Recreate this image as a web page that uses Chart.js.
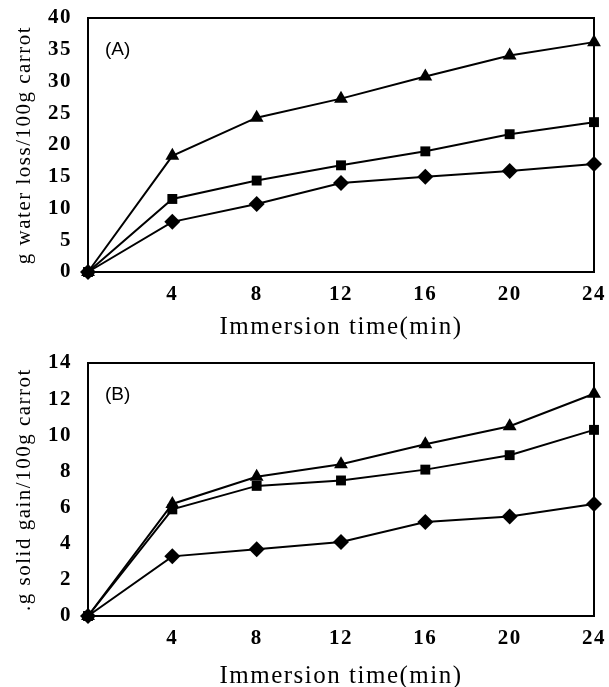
<!DOCTYPE html>
<html>
<head>
<meta charset="utf-8">
<script src="https://cdn.jsdelivr.net/npm/chart.js@4"></script>
<style>
  html, body { margin: 0; padding: 0; background: #fff; }
  #chartA { display: block; width: 609px; height: 343px; }
  #chartB { display: block; width: 609px; height: 344px; }
</style>
</head>
<body>
<canvas id="chartA" width="609" height="343"></canvas>
<canvas id="chartB" width="609" height="344"></canvas>
<script>
// --- data ---
const times = [0, 4, 8, 12, 16, 20, 24];

const waterTriangle = [0, 18.3, 24.3, 27.3, 30.8, 34.1, 36.2];
const waterSquare   = [0, 11.5, 14.4, 16.8, 19.0, 21.7, 23.6];
const waterDiamond  = [0, 7.9, 10.7, 14.0, 15.0, 15.9, 17.0];

const solidTriangle = [0, 6.2, 7.7, 8.4, 9.5, 10.5, 12.3];
const solidSquare   = [0, 5.9, 7.2, 7.5, 8.1, 8.9, 10.3];
const solidDiamond  = [0, 3.3, 3.7, 4.1, 5.2, 5.5, 6.2];

const serif = "'Liberation Serif', 'DejaVu Serif', serif";

// wide letter spacing like the scanned figure
const spacingPlugin = {
  id: "spacing",
  beforeDraw(chart) { chart.ctx.letterSpacing = "1.5px"; }
};

// box round plot area + panel letter
const framePlugin = {
  id: "frame",
  afterDraw(chart, args, opts) {
    const { ctx, chartArea: a } = chart;
    ctx.save();
    ctx.letterSpacing = "0px";
    ctx.strokeStyle = "#000";
    ctx.lineWidth = 2;
    ctx.strokeRect(a.left, a.top, a.right - a.left, a.bottom - a.top);
    ctx.fillStyle = "#000";
    ctx.font = "19px 'Liberation Sans', Arial, sans-serif";
    ctx.textBaseline = "middle";
    ctx.fillText(opts.label, a.left + 17, a.top + 32);
    ctx.restore();
  }
};

function series(vals, shape, size) {
  return {
    data: vals.map((v, i) => ({ x: times[i], y: v })),
    borderColor: "#000",
    backgroundColor: "#000",
    borderWidth: 2,
    pointStyle: shape,
    pointRadius: size,
    pointBorderWidth: 0,
    tension: 0
  };
}

function makeChart(id, label, sets, yMax, yStep, yTitle, topPad, titleBottom) {
  return new Chart(document.getElementById(id), {
    type: "line",
    data: {
      datasets: [
        series(sets[0], "triangle", 8),
        series(sets[1], "rect", 7),
        series(sets[2], "rectRot", 8)
      ]
    },
    options: {
      responsive: false,
      animation: false,
      clip: false,
      layout: { padding: { top: topPad, right: 15, left: 0, bottom: 0 } },
      plugins: { legend: { display: false }, tooltip: { enabled: false }, frame: { label } },
      scales: {
        x: {
          type: "linear",
          min: 0, max: 24,
          ticks: {
            stepSize: 4,
            color: "#000",
            font: { family: serif, size: 21, weight: "bold" },
            padding: 6,
            callback: v => (v === 0 ? "" : v)
          },
          grid: { display: false, drawTicks: true, tickLength: 4 },
          border: { display: false },
          title: {
            display: true,
            text: "Immersion time(min)",
            color: "#000",
            font: { family: serif, size: 25 },
            padding: { top: 6, bottom: titleBottom }
          },
          afterFit: s => { s.height = 71; s.paddingRight = 0; s.paddingLeft = 0; }
        },
        y: {
          min: 0, max: yMax,
          ticks: {
            stepSize: yStep,
            color: "#000",
            font: { family: serif, size: 21, weight: "bold" },
            padding: 8
          },
          grid: { display: false },
          border: { display: false },
          title: {
            display: true,
            text: yTitle,
            color: "#000",
            font: { family: serif, size: 21 },
            padding: { top: 12, bottom: 0 }
          },
          afterFit: s => { s.width = 88; s.paddingTop = 0; s.paddingBottom = 0; }
        }
      }
    },
    plugins: [spacingPlugin, framePlugin]
  });
}

makeChart("chartA", "(A)", [waterTriangle, waterSquare, waterDiamond], 40, 5,
  "g water loss/100g carrot", 18, 1);
makeChart("chartB", "(B)", [solidTriangle, solidSquare, solidDiamond], 14, 2,
  ".g solid gain/100g carrot", 20, -4);
</script>
</body>
</html>
